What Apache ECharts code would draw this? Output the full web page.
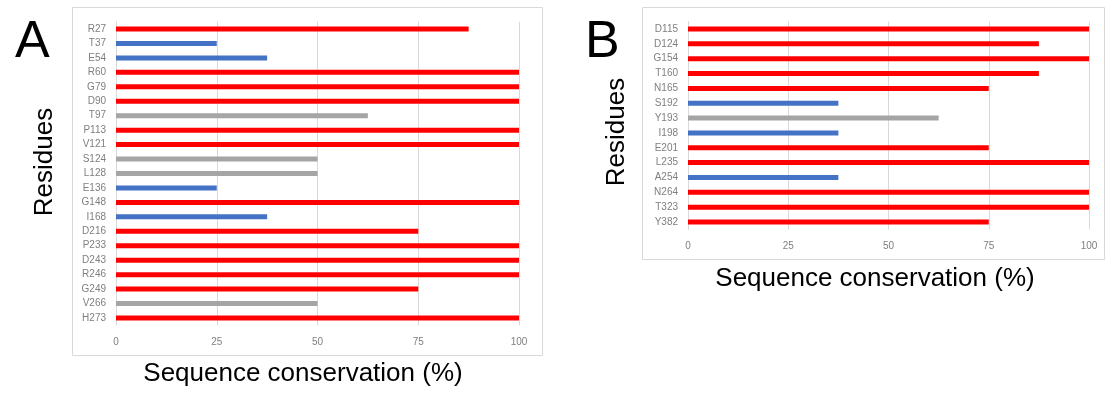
<!DOCTYPE html>
<html>
<head>
<meta charset="utf-8">
<script src="https://cdn.jsdelivr.net/npm/echarts@6/dist/echarts.min.js"></script>
<style>
  html, body { margin: 0; padding: 0; background: #fff; }
  #box { width: 1108px; height: 393px; }
</style>
</head>
<body>
<div id="box"></div>
<script>
// panel A
var residuesA = ["R27", "T37", "E54", "R60", "G79", "D90", "T97", "P113", "V121", "S124", "L128",
  "E136", "G148", "I168", "D216", "P233", "D243", "R246", "G249", "V266", "H273"];
var consA = [87.5, 25, 37.5, 100, 100, 100, 62.5, 100, 100, 50, 50,
  25, 100, 37.5, 75, 100, 100, 100, 75, 50, 100];
// panel B
var residuesB = ["D115", "D124", "G154", "T160", "N165", "S192", "Y193", "I198", "E201", "L235",
  "A254", "N264", "T323", "Y382"];
var consB = [100, 87.5, 100, 87.5, 75, 37.5, 62.5, 37.5, 75, 100, 37.5, 100, 100, 75];
var xTicks = [0, 25, 50, 75, 100];

var chart = echarts.init(document.getElementById("box"));

function barColor(v) {
  if (v >= 75) return "#ff0000";
  if (v >= 50) return "#a5a5a5";
  return "#4472c4";
}

function xAxisFor(idx) {
  return {
    gridIndex: idx,
    type: "value",
    min: xTicks[0],
    max: xTicks[xTicks.length - 1],
    interval: 25,
    axisLine: { show: false },
    axisTick: { show: false },
    axisLabel: { color: "#7f7f7f", fontSize: 10, margin: 12, fontFamily: "Liberation Sans" },
    splitLine: { lineStyle: { color: "#d9d9d9" } }
  };
}

function yAxisFor(idx, cats) {
  return {
    gridIndex: idx,
    type: "category",
    data: cats,
    inverse: true,
    axisLine: { lineStyle: { color: "#d9d9d9" } },
    axisTick: { show: false },
    axisLabel: { color: "#7f7f7f", fontSize: 10, margin: 10, fontFamily: "Liberation Sans" }
  };
}

function barSeries(idx, vals) {
  return {
    type: "bar",
    xAxisIndex: idx,
    yAxisIndex: idx,
    barWidth: 5,
    silent: true,
    data: vals.map(function (v) {
      return { value: v, itemStyle: { color: barColor(v) } };
    })
  };
}

// axis titles placed as text so they sit where the figure has them
function title(txt, x, y, rot) {
  return {
    type: "text", x: x, y: y, rotation: rot || 0,
    style: { text: txt, fontFamily: "Liberation Sans", fontSize: 26, fill: "#000",
      align: "center", verticalAlign: rot ? "middle" : "top" }
  };
}

var option = {
  animation: false,
  grid: [
    { left: 116, right: 589, top: 21.8, bottom: 67.8 },
    { left: 688, right: 19, top: 21.6, bottom: 163.6 }
  ],
  xAxis: [xAxisFor(0), xAxisFor(1)],
  yAxis: [yAxisFor(0, residuesA), yAxisFor(1, residuesB)],
  series: [barSeries(0, consA), barSeries(1, consB)],
  graphic: [
    { type: "rect", shape: { x: 72.5, y: 7.5, width: 470, height: 348 },
      style: { fill: "none", stroke: "#d9d9d9", lineWidth: 1 } },
    { type: "rect", shape: { x: 642.5, y: 7.5, width: 462, height: 252 },
      style: { fill: "none", stroke: "#d9d9d9", lineWidth: 1 } },
    { type: "text", left: 15, top: 17,
      style: { text: "A", fontFamily: "Liberation Sans", fontSize: 52, fill: "#000" } },
    { type: "text", left: 585, top: 17,
      style: { text: "B", fontFamily: "Liberation Sans", fontSize: 52, fill: "#000" } },
    title("Sequence conservation (%)", 303, 361),
    title("Sequence conservation (%)", 875, 266),
    title("Residues", 45, 162, Math.PI / 2),
    title("Residues", 617, 132, Math.PI / 2)
  ]
};
chart.setOption(option);
</script>
</body>
</html>
